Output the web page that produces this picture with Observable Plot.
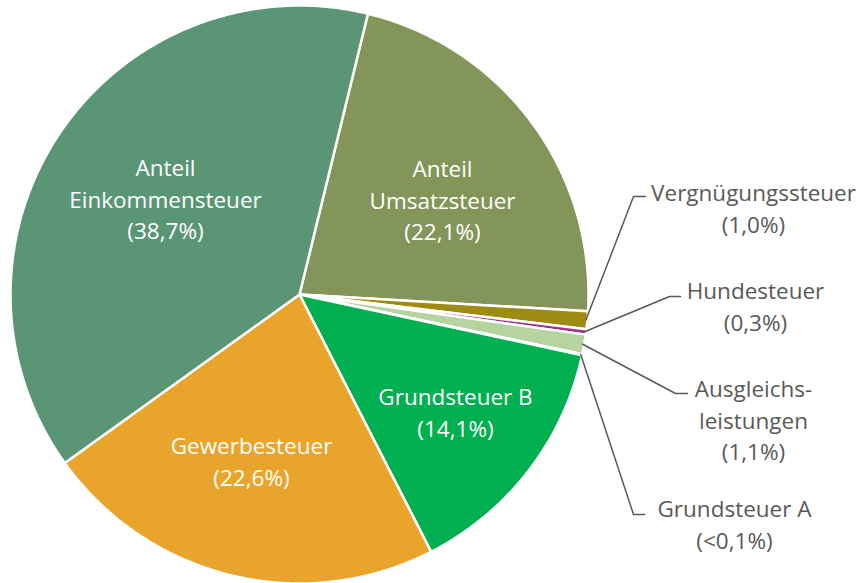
<!DOCTYPE html>
<html>
<head>
<meta charset="utf-8">
<script src="https://cdn.jsdelivr.net/npm/d3@7"></script>
<script src="https://cdn.jsdelivr.net/npm/@observablehq/plot@0.6"></script>
<style>
  html, body { margin: 0; padding: 0; background: #fff; }
  #chart svg { display: block; }
</style>
</head>
<body>
<div id="chart"></div>
<script>
// ---- data (clockwise order, starting after "Anteil Einkommensteuer") ----
const categories = ["Anteil Umsatzsteuer", "Vergnügungssteuer", "Hundesteuer", "Ausgleichsleistungen", "Grundsteuer A", "Grundsteuer B", "Gewerbesteuer", "Anteil Einkommensteuer"];
const values = [22.1, 1.0, 0.3, 1.1, 0.05, 14.1, 22.6, 38.7];
const valueLabels = ["22,1%", "1,0%", "0,3%", "1,1%", "<0,1%", "14,1%", "22,6%", "38,7%"];
const displayNames = ["Anteil\nUmsatzsteuer", "Vergnügungssteuer", "Hundesteuer", "Ausgleichs-\nleistungen", "Grundsteuer A", "Grundsteuer B", "Gewerbesteuer", "Anteil\nEinkommensteuer"];
const colors = ["#839559", "#9E8C12", "#A2338A", "#B7D4A0", "#5B7FC0", "#00AF50", "#E9A42B", "#5A9676"];
const outside = [false, true, true, true, true, false, false, false];

// ---- layout ----
const W = 867, H = 583, CX = 299, CY = 294, R = 289;
const startDeg = 13.7;
const u = (px, py) => [(px - CX) / R, (CY - py) / R];
// label centres (pixels) and leader elbows/ends (pixels)
const labelPos = [[442, 198], [753, 206], [755, 304], [753, 418], [734, 522], [455, 410], [251, 459], [165, 197]];
const leaderElbow = {1: [[633, 196], [645, 196]], 2: [[669, 296], [680, 296]], 3: [[675, 393], [687, 393]], 4: [[633, 514], [644, 514]]};

const total = d3.sum(values);
let acc = startDeg;
const slices = values.map((v, i) => {
  const a0 = acc, a1 = acc + v / total * 360;
  acc = a1;
  return {name: categories[i], a0, a1, mid: (a0 + a1) / 2};
});
const rad = d => d * Math.PI / 180;
const pt = (deg, r) => [r * Math.sin(rad(deg)), r * Math.cos(rad(deg))];

const slicePts = [];
for (const s of slices) {
  slicePts.push({name: s.name, x: 0, y: 0});
  const n = Math.max(2, Math.ceil((s.a1 - s.a0) / 0.4));
  for (let k = 0; k <= n; k++) {
    const [x, y] = pt(s.a0 + (s.a1 - s.a0) * k / n, 1);
    slicePts.push({name: s.name, x, y});
  }
  slicePts.push({name: s.name, x: 0, y: 0});
}

const leaderPts = [];
slices.forEach((s, i) => {
  if (!leaderElbow[i]) return;
  const [x0, y0] = pt(s.mid, 0.995);
  leaderPts.push({name: s.name, x: x0, y: y0});
  for (const p of leaderElbow[i]) {
    const [x, y] = u(p[0], p[1]);
    leaderPts.push({name: s.name, x, y});
  }
});

const labels = categories.map((c, i) => {
  const [x, y] = u(labelPos[i][0], labelPos[i][1]);
  return {name: c, x, y, text: displayNames[i] + "\n(" + valueLabels[i] + ")", outside: outside[i]};
});

const font = "'Open Sans', sans-serif";

const chart = Plot.plot({
  width: W, height: H, margin: 0,
  x: {domain: [(0 - CX) / R, (W - CX) / R], range: [0, W], axis: null},
  y: {domain: [(CY - H) / R, CY / R], range: [H, 0], axis: null},
  color: {domain: categories, range: colors},
  marks: [
    Plot.line(slicePts, {x: "x", y: "y", z: "name", fill: "name", stroke: "white", strokeWidth: 2.5, strokeLinejoin: "round", curve: "linear"}),
    Plot.line(leaderPts, {x: "x", y: "y", z: "name", stroke: "#595959", strokeWidth: 1.5, curve: "linear"}),
    Plot.text(labels.filter(d => !d.outside), {x: "x", y: "y", text: "text", fill: "white", fontSize: 22.5, lineHeight: 1.41, fontFamily: font, textAnchor: "middle"}),
    Plot.text(labels.filter(d => d.outside), {x: "x", y: "y", text: "text", fill: "#595959", fontSize: 22.5, lineHeight: 1.41, fontFamily: font, textAnchor: "middle"})
  ]
});
document.getElementById("chart").appendChild(chart);
</script>
</body>
</html>
